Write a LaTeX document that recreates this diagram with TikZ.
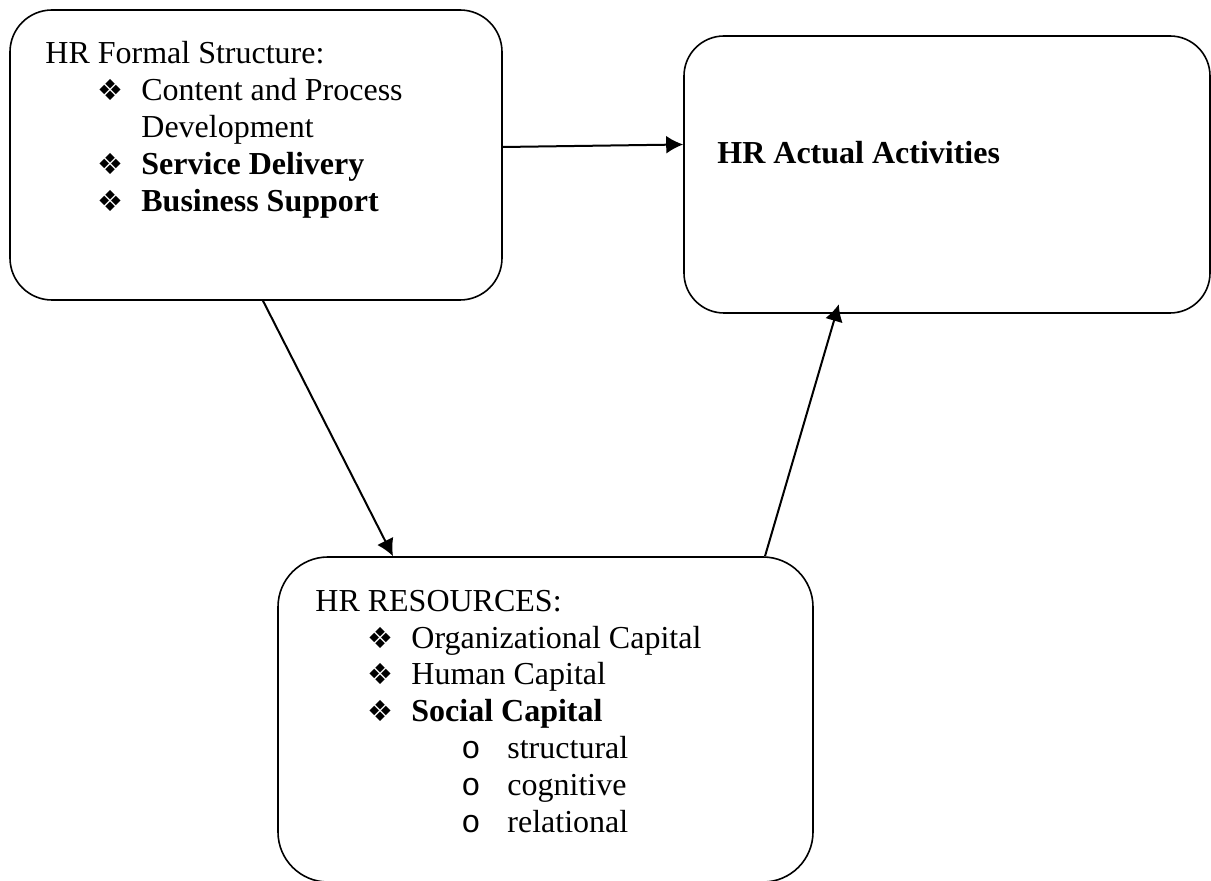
\documentclass[tikz,border=0pt]{standalone}
\usepackage{fontspec}
\setmainfont{Liberation Serif}
\setmonofont{Liberation Mono}
\newfontfamily\dingfont{DejaVu Sans}
\usetikzlibrary{arrows.meta}
\tikzset{>={Latex[width=9pt,length=8.5pt]}}

\newcommand{\dia}{\hspace*{26pt}\makebox[22pt][l]{\dingfont\fontsize{14.5}{14.5}\selectfont ❖}}
\newcommand{\circitm}{\hspace*{73pt}\makebox[23pt][l]{\ttfamily o}}
\newcommand{\contline}{\hspace*{48pt}}

\begin{document}
\begin{tikzpicture}[
    x=0.5pt,
    y=-0.5pt,
    roundbox/.style={
        draw,
        line width=0.8pt,
        rounded corners=#1
    },
    roundbox/.default=21pt,
    txt/.style={
        align=left,
        inner sep=0pt,
        anchor=base west,
        font=\fontsize{16}{18.5}\selectfont
    },
    arr/.style={->, line width=1pt}
]
\useasboundingbox (0,0) rectangle (1211,881);

\node[roundbox, minimum width=246pt, minimum height=145pt] (formal) at (256,155) {};
% base anchor of a multi-line node sits on its last line
\node[txt] (formaltext) at (45,212) {HR Formal Structure:\\
    \dia Content and Process\\
    \contline Development\\
    \dia\textbf{Service Delivery}\\
    \dia\textbf{Business Support}};

\node[roundbox=20pt, minimum width=263pt, minimum height=138.5pt] (actual) at (947,174.5) {};
\node[txt] (actualtext) at (717,164) {\textbf{HR Actual Activities}};

\node[roundbox=25pt, minimum width=267.5pt, minimum height=162.5pt] (resources) at (545.5,719.5) {};
\node[txt] (resourcestext) at (315,833) {HR RESOURCES:\\
    \dia Organizational Capital\\
    \dia Human Capital\\
    \dia\textbf{Social Capital}\\
    \circitm structural\\
    \circitm cognitive\\
    \circitm relational};

\draw[arr] ([yshift=4pt]formal.east) -- ([yshift=15pt]actual.west);
\draw[arr] ([xshift=3.5pt]formal.south) -- ([xshift=-76.25pt]resources.north);
\draw[arr, shorten >=-5pt] ([xshift=109.75pt]resources.north) -- ([xshift=-55.5pt]actual.south);

\end{tikzpicture}
\end{document}
